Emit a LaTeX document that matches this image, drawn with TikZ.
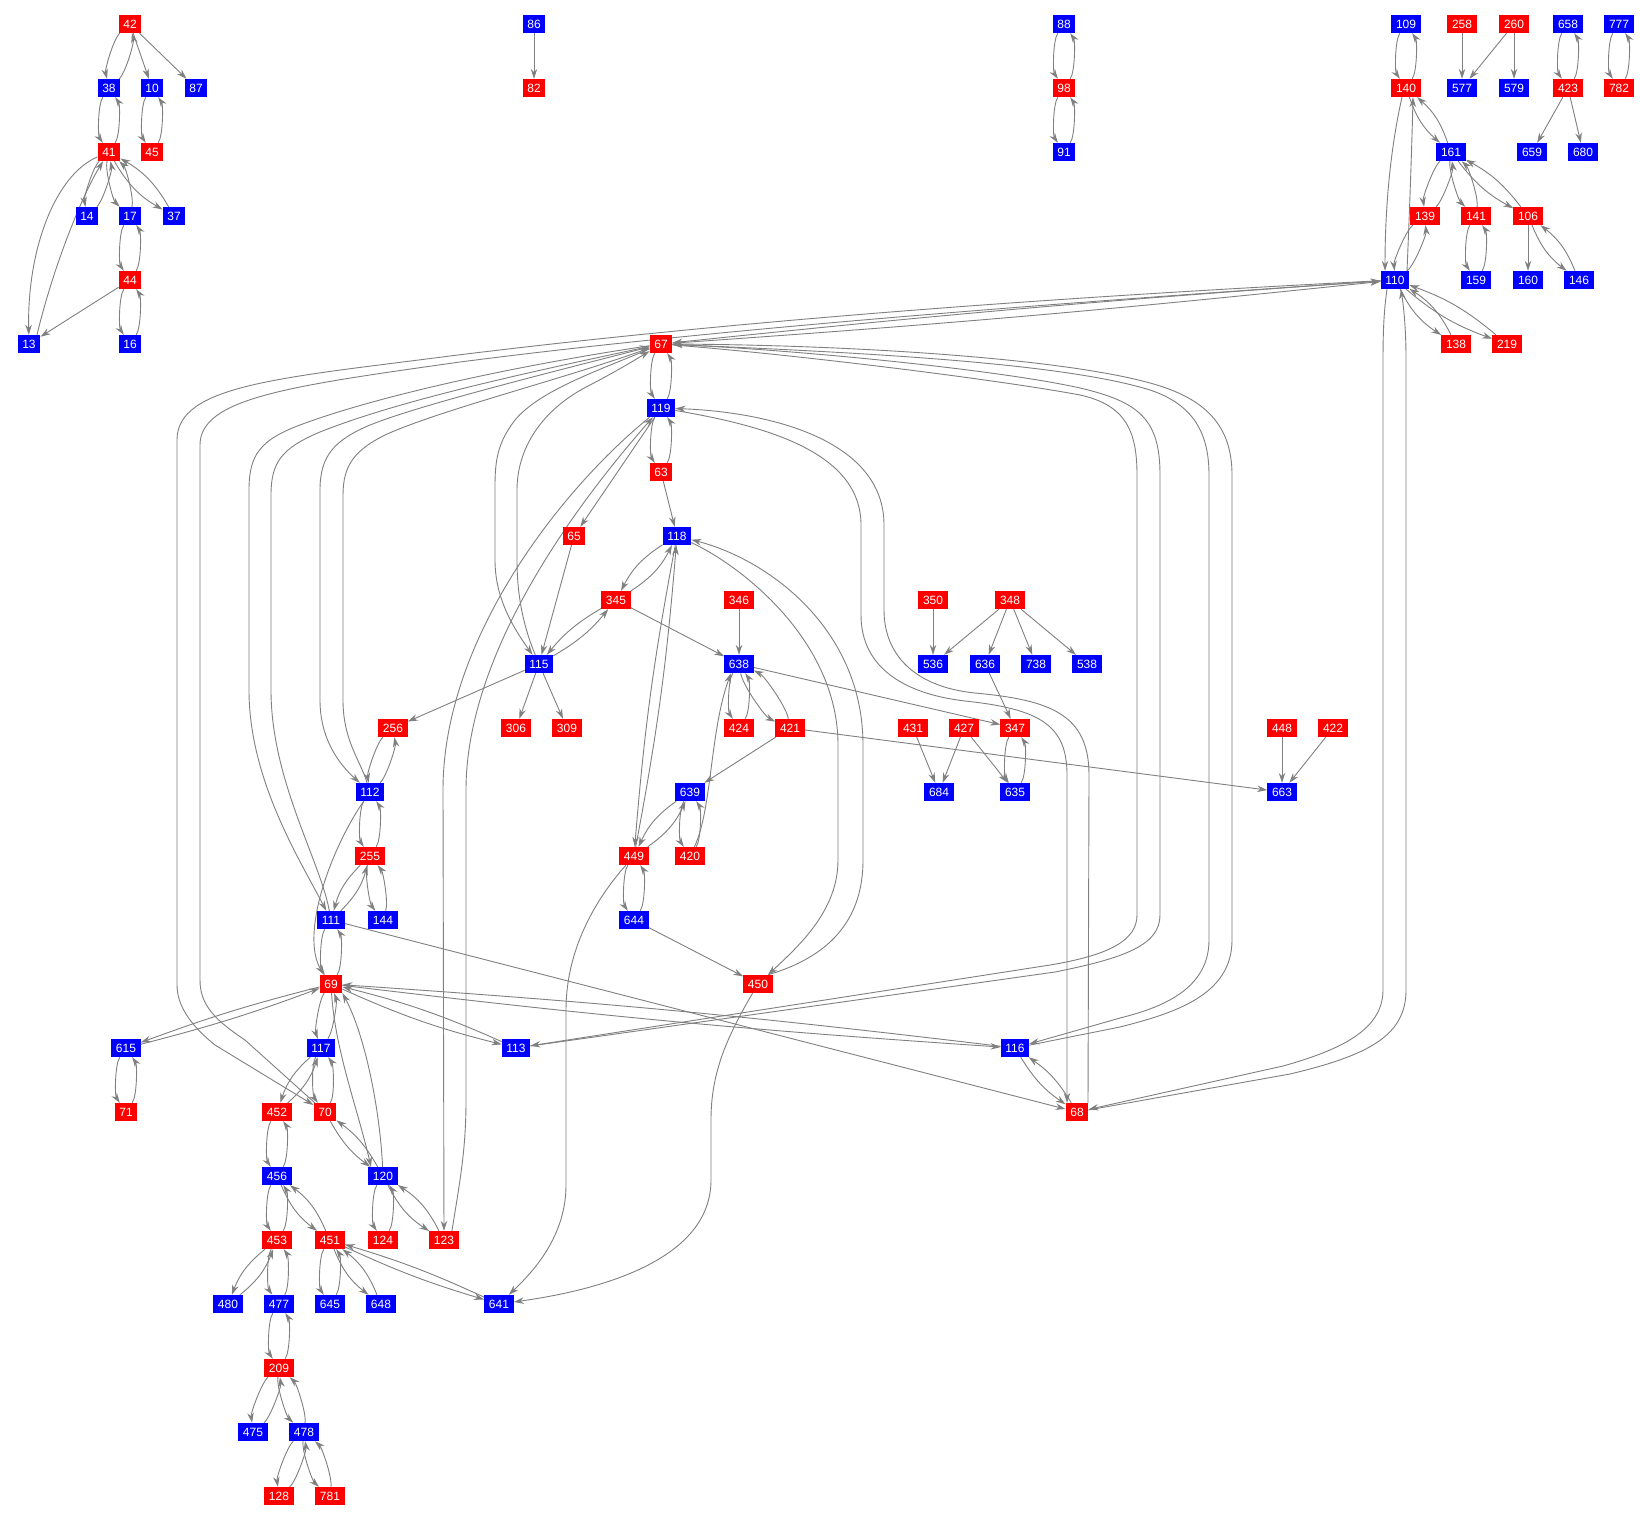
\documentclass[tikz,border=0pt]{standalone}
\usepackage{fontspec}
\newfontfamily\nf{Liberation Sans}
\usetikzlibrary{arrows.meta}
\pgfdeclarelayer{bgl}
\pgfdeclarelayer{edges}
\pgfsetlayers{bgl,edges,main}
\newcommand\pairE[3]{\draw[e] (n#1) to[bend right=#3,looseness=0.5] (n#2); \draw[e] (n#2) to[bend right=#3,looseness=0.5] (n#1);}
\newcommand\pairL[3]{\draw[e] (n#1) to[bend right=#3] (n#2); \draw[e] (n#2) to[bend right=#3] (n#1);}
\newcommand\oneE[2]{\draw[e] (n#1) -- (n#2);}
\begin{document}
\begin{tikzpicture}[x=1pt,y=-1pt,
 nd/.style={rectangle, inner xsep=4.6pt, inner ysep=0pt, minimum height=18pt, text height=8.6pt, text depth=0pt, text=white, font=\nf\fontsize{12}{12}\selectfont},
 r/.style={nd,fill=red}, b/.style={nd,fill=blue},
 e/.style={draw=gray, line width=0.9pt, -{Stealth[length=10pt,width=6.5pt]}}]
\begin{pgfonlayer}{bgl}
\fill[white] (0,0) rectangle (1640,1522);
\end{pgfonlayer}
\useasboundingbox (0,0) rectangle (1640,1522);
% nodes
\node[r] (n42) at (130,24) {42};
\node[b] (n86) at (534,24) {86};
\node[b] (n88) at (1064,24) {88};
\node[b] (n109) at (1406,24) {109};
\node[r] (n258) at (1462,24) {258};
\node[r] (n260) at (1514,24) {260};
\node[b] (n658) at (1568,24) {658};
\node[b] (n777) at (1619,24) {777};
\node[b] (n38) at (109,88) {38};
\node[b] (n10) at (152,88) {10};
\node[b] (n87) at (196,88) {87};
\node[r] (n82) at (534,88) {82};
\node[r] (n98) at (1064,88) {98};
\node[r] (n140) at (1406,88) {140};
\node[b] (n577) at (1462,88) {577};
\node[b] (n579) at (1514,88) {579};
\node[r] (n423) at (1568,88) {423};
\node[r] (n782) at (1619,88) {782};
\node[r] (n41) at (109,152) {41};
\node[r] (n45) at (152,152) {45};
\node[b] (n91) at (1064,152) {91};
\node[b] (n161) at (1451,152) {161};
\node[b] (n659) at (1532,152) {659};
\node[b] (n680) at (1583,152) {680};
\node[b] (n14) at (87,216) {14};
\node[b] (n17) at (130,216) {17};
\node[b] (n37) at (174,216) {37};
\node[r] (n139) at (1425,216) {139};
\node[r] (n141) at (1476,216) {141};
\node[r] (n106) at (1528,216) {106};
\node[r] (n44) at (130,280) {44};
\node[b] (n110) at (1395,280) {110};
\node[b] (n159) at (1476,280) {159};
\node[b] (n160) at (1528,280) {160};
\node[b] (n146) at (1579,280) {146};
\node[b] (n13) at (29,344) {13};
\node[b] (n16) at (130,344) {16};
\node[r] (n67) at (661,344) {67};
\node[r] (n138) at (1456,344) {138};
\node[r] (n219) at (1507,344) {219};
\node[b] (n119) at (661,408) {119};
\node[r] (n63) at (661,472) {63};
\node[r] (n65) at (574,536) {65};
\node[b] (n118) at (677,536) {118};
\node[r] (n345) at (616,600) {345};
\node[r] (n346) at (739,600) {346};
\node[r] (n350) at (933,600) {350};
\node[r] (n348) at (1010,600) {348};
\node[b] (n115) at (539,664) {115};
\node[b] (n638) at (739,664) {638};
\node[b] (n536) at (933,664) {536};
\node[b] (n636) at (985,664) {636};
\node[b] (n738) at (1036,664) {738};
\node[b] (n538) at (1087,664) {538};
\node[r] (n256) at (393,728) {256};
\node[r] (n306) at (516,728) {306};
\node[r] (n309) at (567,728) {309};
\node[r] (n424) at (739,728) {424};
\node[r] (n421) at (790,728) {421};
\node[r] (n431) at (913,728) {431};
\node[r] (n427) at (964,728) {427};
\node[r] (n347) at (1015,728) {347};
\node[r] (n448) at (1282,728) {448};
\node[r] (n422) at (1333,728) {422};
\node[b] (n112) at (370,792) {112};
\node[b] (n639) at (690,792) {639};
\node[b] (n684) at (939,792) {684};
\node[b] (n635) at (1015,792) {635};
\node[b] (n663) at (1282,792) {663};
\node[r] (n255) at (370,856) {255};
\node[r] (n449) at (634,856) {449};
\node[r] (n420) at (690,856) {420};
\node[b] (n111) at (331,920) {111};
\node[b] (n144) at (383,920) {144};
\node[b] (n644) at (634,920) {644};
\node[r] (n69) at (331,984) {69};
\node[r] (n450) at (758,984) {450};
\node[b] (n615) at (126,1048) {615};
\node[b] (n117) at (321,1048) {117};
\node[b] (n113) at (516,1048) {113};
\node[b] (n116) at (1015,1048) {116};
\node[r] (n71) at (126,1112) {71};
\node[r] (n452) at (277,1112) {452};
\node[r] (n70) at (325,1112) {70};
\node[r] (n68) at (1077,1112) {68};
\node[b] (n456) at (277,1176) {456};
\node[b] (n120) at (383,1176) {120};
\node[r] (n453) at (277,1240) {453};
\node[r] (n451) at (330,1240) {451};
\node[r] (n124) at (383,1240) {124};
\node[r] (n123) at (444,1240) {123};
\node[b] (n480) at (228,1304) {480};
\node[b] (n477) at (279,1304) {477};
\node[b] (n645) at (330,1304) {645};
\node[b] (n648) at (381,1304) {648};
\node[b] (n641) at (499,1304) {641};
\node[r] (n209) at (279,1368) {209};
\node[b] (n475) at (253,1432) {475};
\node[b] (n478) at (304,1432) {478};
\node[r] (n128) at (279,1496) {128};
\node[r] (n781) at (330,1496) {781};
\begin{pgfonlayer}{edges}
% single edges
\oneE{42}{87} \oneE{42}{10} \oneE{86}{82} \oneE{258}{577} \oneE{260}{577} \oneE{260}{579}
\oneE{423}{659} \oneE{423}{680} \oneE{106}{160} \oneE{44}{13} \oneE{65}{115} \oneE{63}{118}
\oneE{345}{638} \oneE{346}{638} \oneE{115}{256} \oneE{115}{306} \oneE{115}{309} \oneE{350}{536}
\oneE{348}{536} \oneE{348}{636} \oneE{348}{738} \oneE{348}{538} \oneE{636}{347} \oneE{638}{347}
\oneE{421}{639} \oneE{421}{663} \oneE{431}{684} \oneE{427}{684} \oneE{427}{635} \oneE{448}{663}
\oneE{422}{663} \oneE{644}{450} \oneE{111}{68} \oneE{119}{65}
% short pairs
\pairE{42}{38}{30} \pairE{10}{45}{34} \pairE{38}{41}{34} \pairE{41}{14}{28} \pairE{41}{17}{30}
\pairE{17}{44}{34} \pairE{44}{16}{34} \pairE{88}{98}{34} \pairE{98}{91}{34}
\pairE{109}{140}{34} \pairE{658}{423}{34} \pairE{777}{782}{34}
\pairE{161}{139}{28} \pairE{161}{141}{28} \pairE{139}{110}{28}
\pairE{141}{159}{34} \pairE{67}{119}{34} \pairE{119}{63}{34}
\pairE{638}{424}{34} \pairE{638}{421}{28} \pairE{639}{420}{34}
\pairE{449}{644}{34} \pairE{347}{635}{34} \pairE{256}{112}{28} \pairE{112}{255}{34}
\pairE{255}{144}{28} \pairE{111}{69}{34} \pairE{69}{117}{28} \pairE{615}{71}{34}
\pairE{117}{70}{34} \pairE{120}{124}{34} \pairE{452}{456}{34} \pairE{456}{453}{34}
\pairE{453}{477}{34} \pairE{451}{645}{34} \pairE{477}{209}{34} \pairE{209}{475}{28}
\pairE{209}{478}{28} \pairE{478}{128}{28} \pairE{478}{781}{28}
% longer pairs
\pairL{41}{37}{15} \pairL{140}{161}{15} \pairL{161}{106}{12} \pairL{106}{146}{15}
\pairL{110}{138}{15} \pairL{110}{219}{10} \pairL{118}{345}{15} \pairL{345}{115}{10}
\pairL{639}{449}{15} \pairL{255}{111}{15} \pairL{117}{452}{15} \pairL{70}{120}{12}
\pairL{120}{123}{15} \pairL{116}{68}{12} \pairL{456}{451}{15} \pairL{453}{480}{15}
\pairL{451}{648}{15} \pairL{69}{615}{3} \pairL{69}{113}{5} \pairL{69}{116}{1.5}
\pairL{451}{641}{4} \pairL{67}{110}{1} \pairL{118}{449}{3}
% long routed edges
\draw[e] (n110) .. controls (1000,300) and (700,325) .. (450,356) .. controls (280,378) and (177,385) .. (177,440) -- (177,985) .. controls (177,1005) and (190,1025) .. (215,1045) -- (n70);
\draw[e] (n70) -- (245,1040) .. controls (215,1020) and (200,1005) .. (200,980) -- (200,445) .. controls (200,398) and (290,386) .. (460,362) .. controls (700,331) and (1000,307) .. (n110);
\draw[e] (n67) .. controls (520,365) and (380,395) .. (300,425) .. controls (260,440) and (249,455) .. (249,490) -- (249,690) .. controls (249,780) and (300,860) .. (n111);
\draw[e] (n111) .. controls (320,860) and (271,780) .. (271,690) -- (271,495) .. controls (271,462) and (282,448) .. (320,432) .. controls (400,400) and (530,372) .. (n67);
\draw[e] (n67) .. controls (540,375) and (420,405) .. (370,425) .. controls (335,440) and (320,455) .. (320,490) -- (320,700) .. controls (320,740) and (340,765) .. (n112);
\draw[e] (n112) .. controls (360,760) and (343,740) .. (343,700) -- (343,495) .. controls (343,465) and (355,450) .. (385,435) .. controls (440,410) and (560,380) .. (n67);
\draw[e] (n67) .. controls (600,370) and (540,390) .. (515,420) .. controls (500,440) and (495,455) .. (495,485) -- (495,560) .. controls (495,600) and (515,630) .. (n115);
\draw[e] (n115) .. controls (525,630) and (517,600) .. (517,560) -- (517,490) .. controls (517,450) and (540,410) .. (590,385) .. controls (615,372) and (635,360) .. (n67);
\draw[e] (n67) .. controls (800,355) and (1000,380) .. (1080,395) .. controls (1125,405) and (1137,430) .. (1137,475) -- (1137,915) .. controls (1137,940) and (1110,955) .. (1050,965) -- (n113);
\draw[e] (n113) -- (1055,972) .. controls (1125,958) and (1160,945) .. (1160,915) -- (1160,475) .. controls (1160,420) and (1140,402) .. (1080,388) .. controls (1000,370) and (800,350) .. (n67);
\draw[e] (n67) .. controls (850,352) and (1060,362) .. (1150,390) .. controls (1195,405) and (1209,435) .. (1209,475) -- (1209,940) .. controls (1209,990) and (1160,1008) .. (1120,1018) -- (n116);
\draw[e] (n116) -- (1120,1027) .. controls (1175,1013) and (1232,995) .. (1232,940) -- (1232,475) .. controls (1232,425) and (1205,398) .. (1150,383) .. controls (1060,358) and (850,345) .. (n67);
\draw[e] (n119) .. controls (760,425) and (861,450) .. (861,525) -- (861,615) .. controls (861,668) and (905,694) .. (965,701) .. controls (1040,709) and (1067,725) .. (1067,775) -- ([xshift=-10pt]n68.north);
\draw[e] ([xshift=11pt]n68.north) -- (1089,775) .. controls (1089,714) and (1050,700) .. (975,693) .. controls (915,687) and (884,655) .. (884,610) -- (884,525) .. controls (884,440) and (770,412) .. (n119);
\draw[e] ([xshift=-8pt]n110.south) .. controls (1384,310) and (1383,330) .. (1383,360) -- (1383,990) .. controls (1383,1030) and (1340,1050) .. (1283,1066) -- (n68);
\draw[e] (n68) -- (1290,1074) .. controls (1370,1055) and (1406,1035) .. (1406,990) -- (1406,360) .. controls (1406,330) and (1404,310) .. ([xshift=6pt]n110.south);
\draw[e] ([xshift=-4pt]n140.south) .. controls (1390,150) and (1385,210) .. ([xshift=-10pt]n110.north);
\draw[e] ([xshift=12pt]n110.north) .. controls (1410,200) and (1412,140) .. ([xshift=7pt]n140.south);
\draw[e] (n118) .. controls (740,565) and (838,640) .. (838,745) -- (838,860) .. controls (838,910) and (800,945) .. (n450);
\draw[e] ([xshift=10pt]n450.north) .. controls (835,955) and (863,915) .. (863,860) -- (863,745) .. controls (863,630) and (770,560) .. (n118);
\draw[e] (n119) .. controls (560,490) and (443,640) .. (443,790) -- (n123);
\draw[e] ([xshift=8pt]n123.north) .. controls (460,1180) and (466,1150) .. (466,1100) -- (466,790) .. controls (466,650) and (580,500) .. (n119);
\draw[e] (n112) .. controls (330,850) and (300,935) .. ([xshift=-7pt]n69.north);
\draw[e] (n69) .. controls (335,1050) and (358,1110) .. ([xshift=-12pt]n120.north);
\draw[e] (n120) .. controls (380,1110) and (365,1035) .. (n69.south east);
\draw[e] (n449) .. controls (595,900) and (566,950) .. (566,1010) -- (566,1185) .. controls (566,1235) and (535,1270) .. (n641);
\draw[e] (n450) .. controls (725,1040) and (711,1075) .. (711,1120) -- (711,1180) .. controls (711,1260) and (600,1290) .. (n641);
\draw[e] (n420) .. controls (712,810) and (710,730) .. ([xshift=-8pt]n638.south);
\draw[e] (n41) .. controls (55,175) and (27,250) .. (n13);
\draw[e] ([xshift=8pt]n13.north) .. controls (55,260) and (85,190) .. (n41);
\end{pgfonlayer}
\end{tikzpicture}
\end{document}
